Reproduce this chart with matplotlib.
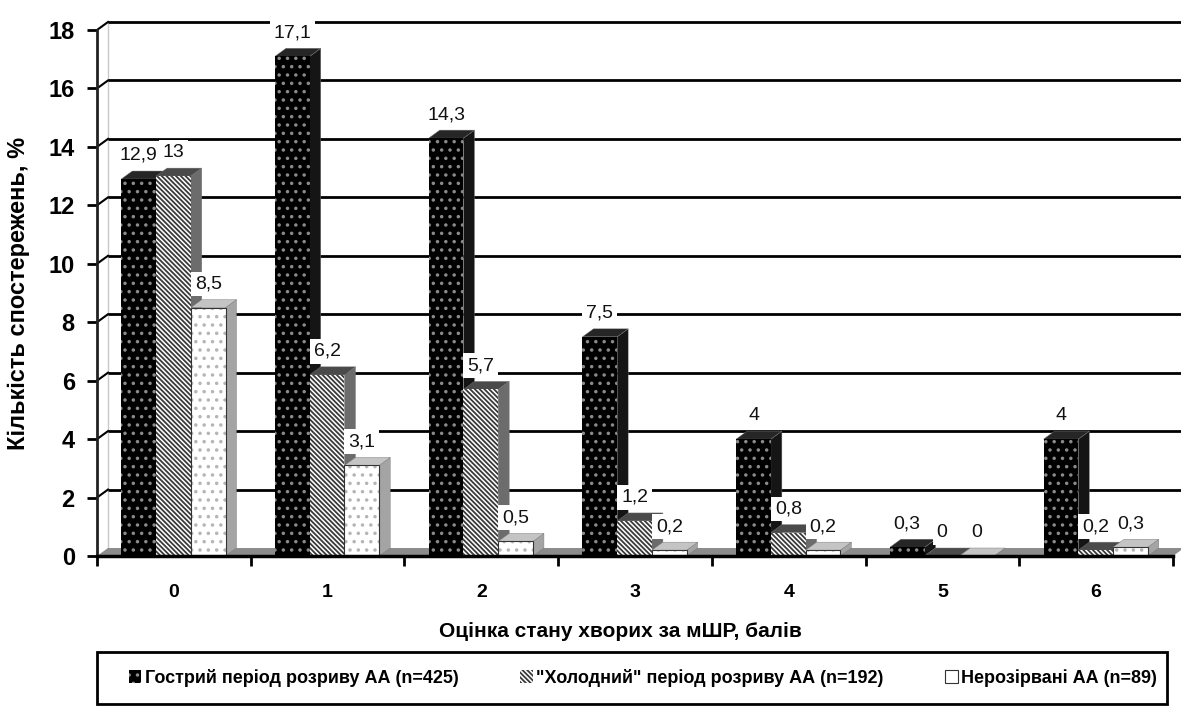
import numpy as np
import matplotlib
matplotlib.use("Agg")
import matplotlib.pyplot as plt
from matplotlib.patches import Polygon, Patch, Rectangle

# data
categories = [0, 1, 2, 3, 4, 5, 6]
acute = [12.9, 17.1, 14.3, 7.5, 4, 0.3, 4]
cold = [13, 6.2, 5.7, 1.2, 0.8, 0, 0.2]
unruptured = [8.5, 3.1, 0.5, 0.2, 0.2, 0, 0.3]
series_names = ['Гострий період розриву АА (n=425)',
                '"Холодний" період розриву АА (n=192)',
                'Нерозірвані АА (n=89)']

plt.rcParams['font.family'] = ['Liberation Sans', 'DejaVu Sans']
plt.rcParams['hatch.linewidth'] = 1.3

W, H = 1181, 717
fig = plt.figure(figsize=(W / 100, H / 100), dpi=100)
ax = fig.add_axes([97 / W, 1 - 556 / H, 1076 / W, 526 / H])
ax.set_xlim(-0.5, 6.5)
ax.set_ylim(0, 18)

# fake 3d depth (in data units)
dx = 11 / (1076 / 7)
dy = 8 / (526 / 18)

width = 0.226
offsets = [-0.229, -0.003, 0.223]
# front, side, top colours and hatch per series
styles = [
    dict(fc='black', hc='#8a8a8a', hatch='..', side='#151515', top='#262626', edge=None),
    dict(fc='white', hc='#3a3a3a', hatch='\\' * 7, side='#6c6c6c', top='#4a4a4a', edge=None),
    dict(fc='white', hc='#b5b5b5', hatch='..', side='#a4a4a4', top='#c4c4c4', edge='#333333'),
]
values = [acute, cold, unruptured]

x = np.array(categories, dtype=float)

# floor
ax.add_patch(Polygon([(-0.5, 0), (6.5, 0), (6.5 + dx, dy), (-0.5 + dx, dy)],
                     closed=True, fc='#8c8c8c', ec='none', zorder=1, clip_on=False))

# back wall gridlines
for v in range(2, 19, 2):
    ax.plot([-0.5 + dx, 6.5 + dx + 0.05], [v + dy, v + dy], color='black', lw=2,
            zorder=0.5, clip_on=False, solid_capstyle='butt')
    ax.plot([-0.5, -0.5 + dx], [v, v + dy], color='black', lw=1.5, zorder=0.5, clip_on=False)
ax.plot([-0.5 + dx, -0.5 + dx], [dy, 18 + dy], color='#c8c8c8', lw=1, zorder=0.4, clip_on=False)

# side and top faces, left to right
for ci in range(len(categories)):
    for si, (vals, st) in enumerate(zip(values, styles)):
        v = vals[ci]
        x0 = x[ci] + offsets[si] - width / 2
        x1 = x0 + width
        z = 2 + ci * 0.01 + si * 0.001
        ax.add_patch(Polygon([(x1, 0), (x1, v), (x1 + dx, v + dy), (x1 + dx, dy)], closed=True,
                             fc=st['side'], ec='#777777', lw=0.3, zorder=z))
        ax.add_patch(Polygon([(x0, v), (x1, v), (x1 + dx, v + dy), (x0 + dx, v + dy)], closed=True,
                             fc=st['top'], ec='#777777', lw=0.3, zorder=z + 0.0005))

# front faces
for si, (vals, st) in enumerate(zip(values, styles)):
    ax.bar(x + offsets[si], vals, width=width, color=st['fc'], edgecolor=st['hc'],
           hatch=st['hatch'], linewidth=0, zorder=3)
    if st['edge']:
        ax.bar(x + offsets[si], vals, width=width, fill=False, edgecolor=st['edge'],
               linewidth=0.8, zorder=3.1)

# value labels
for si, vals in enumerate(values):
    for ci, v in enumerate(vals):
        ax.annotate(f"{v:g}".replace('.', ','), xy=(x[ci] + offsets[si], v),
                    xytext=(0, 17), textcoords='offset points', ha='center', va='center',
                    fontsize=14, color='#111111', zorder=10,
                    bbox=dict(boxstyle='square,pad=0.2', fc='white', ec='none'))

# axes styling
for s in ['top', 'right']:
    ax.spines[s].set_visible(False)
ax.spines['left'].set_linewidth(2)
ax.spines['bottom'].set_linewidth(2.5)
ax.spines['left'].set_color('#222222')
ax.spines['left'].set_zorder(4)
ax.spines['bottom'].set_zorder(4)

ax.set_yticks(range(0, 19, 2))
ax.tick_params(axis='y', direction='out', length=7, width=2, pad=9, labelsize=17)
for t in ax.get_yticklabels():
    t.set_fontweight('bold')

ax.set_xticks(np.arange(-0.5, 7, 1))
ax.set_xticklabels([])
ax.set_xticks(x, minor=True)
ax.set_xticklabels([str(c) for c in categories], minor=True, fontsize=14, fontweight='bold')
ax.tick_params(axis='x', which='major', direction='out', length=7, width=2)
ax.tick_params(axis='x', which='minor', length=0, pad=20)

ax.set_ylabel('Кількість спостережень, %', fontsize=17, fontweight='bold')
ax.yaxis.set_label_coords(-0.062, 0.5)
ax.set_xlabel('Оцінка стану хворих за мШР, балів', fontsize=15, fontweight='bold')
ax.xaxis.set_label_coords(0.486, -0.125)

# legend with frame drawn separately
handles = [Patch(facecolor=st['fc'], edgecolor=st['hc'], hatch=st['hatch'], lw=0)
           for st in styles]
handles[2] = Patch(facecolor='white', edgecolor='#333333', lw=0.8)
fig.legend(handles, series_names, loc='center', ncol=3,
           bbox_to_anchor=(643 / W, 1 - 678 / H), frameon=False,
           handlelength=0.7, handleheight=0.7, handletextpad=0.2,
           columnspacing=3.4, prop=dict(weight='bold', size=13))
fig.add_artist(Rectangle((97 / W, 1 - 704 / H), 1070 / W, 52 / H, transform=fig.transFigure,
                         fill=False, ec='black', lw=2))

fig.savefig('out.png', dpi=100)
